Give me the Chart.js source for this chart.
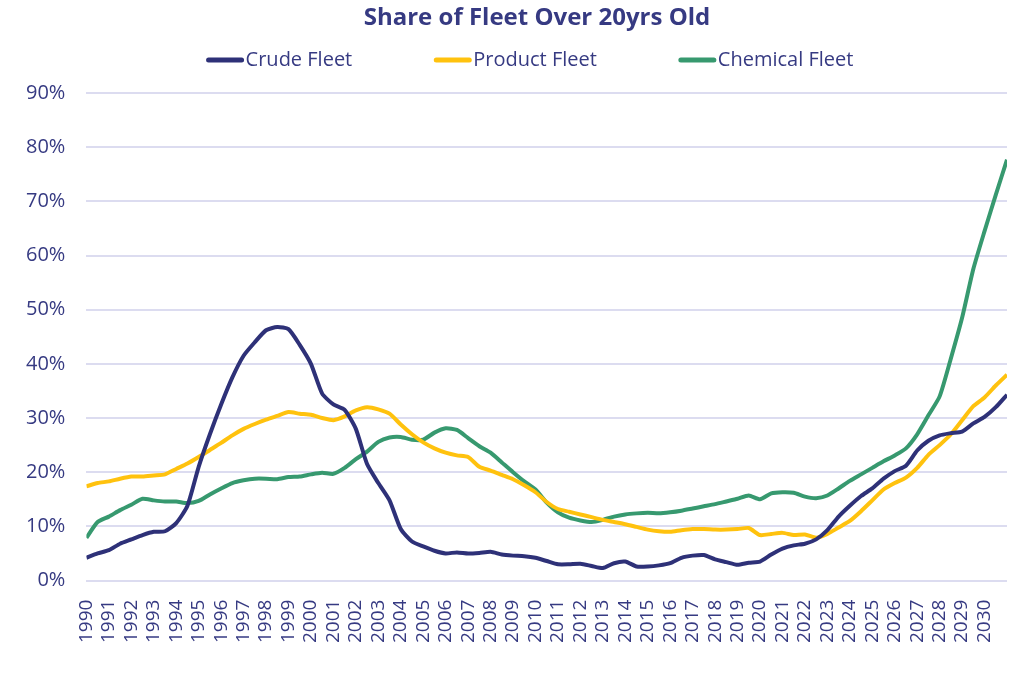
<!DOCTYPE html>
<html>
<head>
<meta charset="utf-8">
<title>Share of Fleet Over 20yrs Old</title>
<script src="https://cdn.jsdelivr.net/npm/chart.js@4.4.1/dist/chart.umd.min.js"></script>
<style>
  html, body { margin: 0; padding: 0; background: #fff; }
  #wrap { width: 1024px; height: 684px; position: relative; }
</style>
</head>
<body>
<div id="wrap"><canvas id="fleetChart"></canvas></div>
<script>
const chartTitle = "Share of Fleet Over 20yrs Old";
const textColor = "#363a82";

// sample points every half year, 1990.0 .. 2031.0
const sampleYears = Array.from({ length: 83 }, (_, i) => 1990 + i / 2);
const firstYear = 1990;
const lastYear = 2030;

const seriesNames = ["Crude Fleet", "Product Fleet", "Chemical Fleet"];
const seriesColors = ["#2e3178", "#ffc20e", "#37996f"];

// % of fleet over 20 years old
const crude = [
  4.2, 5.0, 5.6, 6.8, 7.6, 8.4, 9.0, 9.1, 10.6, 13.8,
  21.0, 27.0, 32.5, 37.5, 41.5, 44.0, 46.2, 46.8, 46.4, 43.5,
  40.0, 34.5, 32.5, 31.5, 28.0, 21.5, 18.0, 14.8, 9.5, 7.2,
  6.3, 5.5, 5.0, 5.2, 5.0, 5.1, 5.3, 4.8, 4.6, 4.5,
  4.2, 3.6, 3.0, 3.0, 3.1, 2.7, 2.3, 3.2, 3.5, 2.6,
  2.6, 2.8, 3.2, 4.2, 4.6, 4.7, 3.9, 3.4, 2.9, 3.3,
  3.5, 4.8, 5.9, 6.5, 6.8, 7.6, 9.3, 11.8, 13.8, 15.6,
  17.0, 18.8, 20.2, 21.2, 24.0, 25.8, 26.8, 27.2, 27.5, 29.0,
  30.2, 32.0, 34.3
];
const product = [
  17.4, 18.0, 18.3, 18.8, 19.2, 19.2, 19.4, 19.6, 20.6, 21.6,
  22.8, 24.1, 25.4, 26.8, 28.0, 28.9, 29.7, 30.4, 31.1, 30.8,
  30.6, 30.0, 29.6, 30.3, 31.4, 32.0, 31.6, 30.8, 28.8, 27.0,
  25.5, 24.4, 23.6, 23.1, 22.8, 21.0, 20.3, 19.5, 18.7, 17.6,
  16.3, 14.5, 13.2, 12.7, 12.2, 11.7, 11.2, 10.8, 10.4, 9.9,
  9.4, 9.1, 9.0, 9.3, 9.5, 9.5, 9.4, 9.4, 9.5, 9.7,
  8.4, 8.6, 8.8, 8.4, 8.5, 7.9, 8.6, 9.8, 11.0, 12.8,
  14.8, 16.8, 18.0, 19.0, 20.8, 23.2, 25.0, 27.0, 29.6, 32.2,
  33.8, 36.0, 38.0
];
const chemical = [
  7.9, 10.8, 11.8, 13.0, 14.0, 15.1, 14.8, 14.6, 14.6, 14.3,
  14.7, 15.9, 17.0, 18.0, 18.5, 18.8, 18.8, 18.7, 19.1, 19.2,
  19.6, 19.9, 19.7, 20.8, 22.4, 23.8, 25.6, 26.4, 26.5, 26.0,
  26.0, 27.3, 28.1, 27.8, 26.3, 24.8, 23.6, 21.8, 20.0, 18.3,
  16.8, 14.4, 12.6, 11.6, 11.1, 10.8, 11.2, 11.8, 12.2, 12.4,
  12.5, 12.4, 12.6, 12.9, 13.3, 13.7, 14.1, 14.6, 15.1, 15.7,
  15.0, 16.1, 16.3, 16.2, 15.5, 15.2, 15.7, 17.0, 18.4, 19.6,
  20.8, 22.0, 23.1, 24.4, 27.0, 30.5, 34.0, 41.0, 48.5, 57.5,
  64.5, 71.2, 77.7
];

const yMin = 0;
const yMax = 90;
const yStep = 10;

function toPoints(values) {
  return values.map((v, i) => ({ x: sampleYears[i], y: v }));
}

// title and legend row drawn on the canvas
const headerPlugin = {
  id: "header",
  afterDraw(chart) {
    const ctx = chart.ctx;
    ctx.save();
    ctx.fillStyle = textColor;
    ctx.textBaseline = "middle";
    ctx.textAlign = "center";
    ctx.font = "bold 24px 'Open Sans'";
    ctx.fillText(chartTitle, 537, 18);

    ctx.font = "20px 'Open Sans'";
    ctx.textAlign = "left";
    const items = chart.data.datasets.map(ds => ({
      label: ds.label,
      color: ds.borderColor,
      w: 41 + ctx.measureText(ds.label).width
    }));
    const gap = 80;
    const total = items.reduce((s, it) => s + it.w, 0) + gap * (items.length - 1);
    let x = 530 - total / 2;
    const y = 60;
    items.forEach(it => {
      ctx.strokeStyle = it.color;
      ctx.lineWidth = 5;
      ctx.lineCap = "round";
      ctx.beginPath();
      ctx.moveTo(x + 3, y);
      ctx.lineTo(x + 36, y);
      ctx.stroke();
      ctx.fillText(it.label, x + 40, y);
      x += it.w + gap;
    });
    ctx.restore();
  }
};

Chart.defaults.font.family = "'Open Sans'";
Chart.defaults.color = textColor;

const series = [crude, product, chemical];

new Chart(document.getElementById("fleetChart"), {
  type: "line",
  data: {
    datasets: series.map((vals, i) => ({
      label: seriesNames[i],
      data: toPoints(vals),
      borderColor: seriesColors[i],
      backgroundColor: seriesColors[i],
      borderWidth: 4,
      pointRadius: 0,
      tension: 0.2
    }))
  },
  options: {
    responsive: true,
    maintainAspectRatio: false,
    animation: false,
    layout: { padding: { top: 93, left: 5, right: 17, bottom: 30 } },
    plugins: {
      legend: { display: false },
      title: { display: false },
      tooltip: { enabled: false }
    },
    scales: {
      x: {
        type: "linear",
        min: firstYear,
        max: lastYear + 1,
        grid: { display: false },
        border: { display: false },
        afterFit: scale => {
          scale.paddingLeft = 0;
          scale.paddingRight = 0;
        },
        ticks: {
          stepSize: 1,
          autoSkip: false,
          maxTicksLimit: 60,
          minRotation: 90,
          maxRotation: 90,
          padding: 11,
          font: { size: 19 },
          callback: v => (v <= lastYear ? String(v) : "")
        }
      },
      y: {
        min: yMin,
        max: yMax,
        grid: { color: "#dcdcf0", lineWidth: 2, drawTicks: false },
        border: { display: false },
        ticks: {
          stepSize: yStep,
          padding: 21,
          font: { size: 20 },
          callback: v => v + "%"
        }
      }
    }
  },
  plugins: [headerPlugin]
});
</script>
</body>
</html>
